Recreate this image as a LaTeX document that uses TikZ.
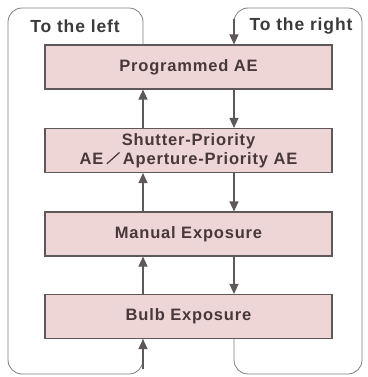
\documentclass[tikz,border=0pt]{standalone}
\usepackage{fontspec}
\setmainfont{Liberation Sans}
\newfontfamily\wideface[LetterSpace=5]{Liberation Sans}
\usetikzlibrary{arrows.meta}

\definecolor{boxfill}{RGB}{238,214,214}
\definecolor{boxline}{RGB}{95,88,88}
\definecolor{inktext}{RGB}{72,56,58}
\definecolor{labeltext}{RGB}{60,58,60}
\definecolor{frameline}{RGB}{130,125,125}

\newcommand{\longslash}{\kern3pt\rotatebox{42}{\rule{17pt}{1.2pt}}\kern3pt}

\tikzset{
 modebox/.style={draw=boxline, fill=boxfill, line width=1.1pt, minimum width=287pt, minimum height=44pt, inner sep=0pt, align=center, text=inktext, font=\wideface\fontsize{16.5}{19}\selectfont\bfseries},
 flow/.style={draw=boxline, line width=1.1pt, -{Triangle[length=10pt,width=9pt]}},
 frame/.style={draw=frameline, line width=0.8pt, rounded corners=14pt},
 dirlabel/.style={text=labeltext, font=\wideface\fontsize{17.5}{20}\selectfont\bfseries}
}

\begin{document}
\begin{tikzpicture}[x=1pt,y=-1pt]
 \useasboundingbox (0,0) rectangle (367,377);

 \node[modebox] (prog) at (188.5,67) {Programmed AE};
 \node[modebox] (prio) at (188.5,150.5) {Shutter-Priority\\AE\longslash Aperture-Priority AE};
 \node[modebox] (man) at (188.5,234) {Manual Exposure};
 \node[modebox] (bulb) at (188.5,316.5) {Bulb Exposure};

 \coordinate (lx) at (143,0);
 \coordinate (rx) at (234,0);
 \coordinate (ltop) at (8,8);
 \coordinate (lbot) at (8,374);
 \coordinate (rtop) at (362,8);
 \coordinate (rbot) at (362,374);

 % left and right frames
 \draw[frame] (prog.north -| lx) |- (ltop) -- (lbot) -| (bulb.south -| lx);
 \draw[flow] ([yshift=-30pt]bulb.south -| lx) -- (bulb.south -| lx);
 \draw[frame] (bulb.south -| rx) |- (rbot) -- (rtop) -| ([yshift=25pt]prog.north -| rx);
 \draw[flow] ([yshift=25pt]prog.north -| rx) -- (prog.north -| rx);

 \node[dirlabel] (left) at (75,26) {To the left};
 \node[dirlabel] (right) at (301,26) {To the right};

 % up and down between modes
 \draw[flow] (prio.north -| lx) -- (prog.south -| lx);
 \draw[flow] (man.north -| lx) -- (prio.south -| lx);
 \draw[flow] (bulb.north -| lx) -- (man.south -| lx);
 \draw[flow] (prog.south -| rx) -- (prio.north -| rx);
 \draw[flow] (prio.south -| rx) -- (man.north -| rx);
 \draw[flow] (man.south -| rx) -- (bulb.north -| rx);
\end{tikzpicture}
\end{document}
